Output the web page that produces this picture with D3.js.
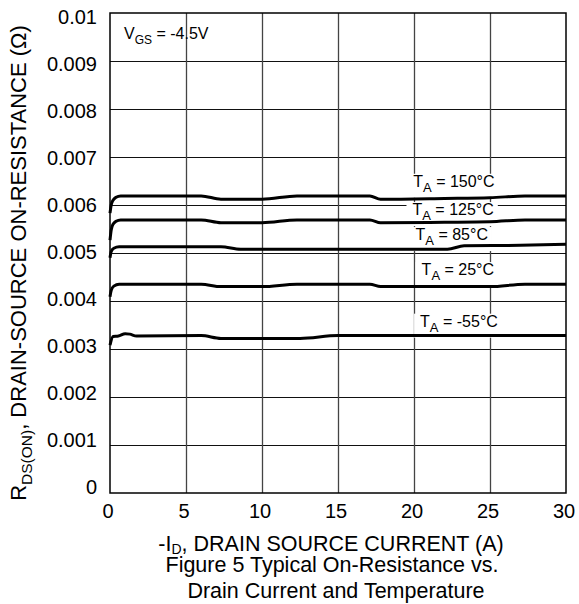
<!DOCTYPE html>
<html>
<head>
<meta charset="utf-8">
<script src="https://cdn.jsdelivr.net/npm/d3@7"></script>
<style>
  body { margin: 0; background: #fff; }
  svg { display: block; font-family: Arial, "Liberation Sans", sans-serif; }
</style>
</head>
<body>
<div id="chart"></div>
<script>
// drain current (A) and on-resistance (ohm)
const id150 = [0, 0.08, 0.2, 0.4, 0.7, 6.0, 7.3, 10.0, 12.3, 17.1, 17.8, 22.0, 25.0, 27.3, 30]
const r150  = [0.00583, 0.00600, 0.00610, 0.00616, 0.00619, 0.00619, 0.00612, 0.00612, 0.00619, 0.00619, 0.00612, 0.006135, 0.00615, 0.00619, 0.00619]

const id125 = [0, 0.08, 0.2, 0.4, 0.7, 6.0, 7.3, 10.0, 12.3, 17.1, 17.8, 22.0, 25.0, 27.3, 30]
const r125  = [0.00527, 0.00548, 0.00560, 0.00566, 0.00569, 0.00569, 0.00563, 0.00563, 0.00569, 0.00569, 0.00563, 0.00564, 0.00565, 0.00569, 0.00569]

const id85 = [0, 0.08, 0.25, 0.6, 7.3, 8.6, 22.2, 23.3, 27.0, 30]
const r85  = [0.00490, 0.00503, 0.00510, 0.00513, 0.00513, 0.00508, 0.00508, 0.00515, 0.00516, 0.00518]

const id25 = [0, 0.08, 0.25, 0.6, 6.0, 7.3, 10.0, 12.3, 17.1, 17.8, 25.0, 27.3, 30]
const r25  = [0.00409, 0.00422, 0.00431, 0.00435, 0.00435, 0.00430, 0.00430, 0.00435, 0.00435, 0.00430, 0.00430, 0.00435, 0.00435]

const idM55 = [0, 0.2, 0.55, 1.0, 1.3, 1.75, 6.0, 7.3, 12.5, 15.0, 30]
const rM55  = [0.00308, 0.00326, 0.00327, 0.00332, 0.00331, 0.00327, 0.00328, 0.00322, 0.00322, 0.00328, 0.00328]

const tempLabels = ['150', '125', '85', '25', '-55']
const xTicks = [0, 5, 10, 15, 20, 25, 30]
const yTicks = [0, 0.001, 0.002, 0.003, 0.004, 0.005, 0.006, 0.007, 0.008, 0.009, 0.01]

const series = [
  { t: tempLabels[0], x: id150, y: r150, lx: 19.95, ly: 0.00638 },
  { t: tempLabels[1], x: id125, y: r125, lx: 19.9, ly: 0.00579 },
  { t: tempLabels[2], x: id85, y: r85, lx: 20.1, ly: 0.00527 },
  { t: tempLabels[3], x: id25, y: r25, lx: 20.5, ly: 0.00454 },
  { t: tempLabels[4], x: idM55, y: rM55, lx: 20.4, ly: 0.003465 }
]

const W = 579, H = 604
const plot = { left: 110, right: 566, top: 13, bottom: 493 }

const svg = d3.select('#chart').append('svg')
  .attr('width', W).attr('height', H)

const x = d3.scaleLinear().domain([0, 30]).range([plot.left, plot.right])
const y = d3.scaleLinear().domain([0, 0.01]).range([plot.bottom, plot.top])
// the tick labels in the original sit slightly compressed against the grid
const yLab = d3.scaleLinear().domain([0, 0.01]).range([493.5, 23.5])

// label boxes go first so they only cut the grid
const bgG = svg.append('g')

// grid
svg.append('g').selectAll('line.h')
  .data(yTicks.slice(1, -1))
  .enter().append('line')
  .attr('x1', plot.left).attr('x2', plot.right)
  .attr('y1', d => Math.round(y(d)) + 0.5).attr('y2', d => Math.round(y(d)) + 0.5)
  .attr('stroke', '#111').attr('stroke-width', 1)

svg.append('g').selectAll('line.v')
  .data(xTicks.slice(1, -1))
  .enter().append('line')
  .attr('y1', plot.top).attr('y2', plot.bottom)
  .attr('x1', d => Math.round(x(d)) + 0.5).attr('x2', d => Math.round(x(d)) + 0.5)
  .attr('stroke', '#444').attr('stroke-width', 1.3)

bgG.raise()

// frame
svg.append('rect')
  .attr('x', plot.left).attr('y', plot.top)
  .attr('width', plot.right - plot.left).attr('height', plot.bottom - plot.top)
  .attr('fill', 'none').attr('stroke', '#000').attr('stroke-width', 1.5)

// tick labels
svg.append('g').selectAll('text')
  .data(yTicks)
  .enter().append('text')
  .attr('x', 97).attr('y', d => yLab(d))
  .attr('text-anchor', 'end').attr('font-size', 20)
  .text(d => d === 0 ? '0' : d3.format('.3~f')(d))

svg.append('g').selectAll('text')
  .data(xTicks)
  .enter().append('text')
  .attr('x', d => x(d) - 2).attr('y', 518)
  .attr('text-anchor', 'middle').attr('font-size', 20)
  .text(d => d)

// curves
const line = d3.line()
  .x(d => x(d[0])).y(d => y(d[1]))
  .curve(d3.curveMonotoneX)

svg.append('g').selectAll('path')
  .data(series)
  .enter().append('path')
  .attr('d', s => line(s.x.map((v, i) => [v, s.y[i]])))
  .attr('fill', 'none').attr('stroke', '#000').attr('stroke-width', 3)
  .attr('stroke-linejoin', 'round')

// temperature labels
const labG = svg.append('g')
series.forEach(s => {
  const t = labG.append('text')
    .attr('x', x(s.lx)).attr('y', y(s.ly))
    .attr('font-size', 16)
  t.append('tspan').text('T')
  t.append('tspan').attr('font-size', 13).attr('dy', 5).text('A')
  t.append('tspan').attr('dy', -5).text(' = ' + s.t + '\u00B0C')
  const bb = t.node().getBBox()
  bgG.append('rect').attr('fill', '#fff')
    .attr('x', bb.x - 6).attr('y', bb.y + 1)
    .attr('width', bb.width + 10).attr('height', bb.height + 2)
})

// VGS note
const vgs = svg.append('text').attr('x', 124).attr('y', 39).attr('font-size', 16)
vgs.append('tspan').text('V')
vgs.append('tspan').attr('font-size', 12).attr('dy', 5).text('GS')
vgs.append('tspan').attr('dy', -5).text(' = -4.5V')

// axis titles
const xt = svg.append('text').attr('x', 331).attr('y', 551).attr('text-anchor', 'middle').attr('font-size', 21.5)
xt.append('tspan').text('-I')
xt.append('tspan').attr('font-size', 14).attr('dy', 3).text('D')
xt.append('tspan').attr('dy', -3).text(', DRAIN SOURCE CURRENT (A)')

svg.append('text').attr('x', 332).attr('y', 572).attr('text-anchor', 'middle').attr('font-size', 21.5)
  .text('Figure 5 Typical On-Resistance vs.')
svg.append('text').attr('x', 336).attr('y', 598).attr('text-anchor', 'middle').attr('font-size', 21.5)
  .text('Drain Current and Temperature')

const yt = svg.append('text')
  .attr('transform', 'translate(26,263) rotate(-90)')
  .attr('text-anchor', 'middle').attr('font-size', 22)
yt.append('tspan').text('R')
yt.append('tspan').attr('font-size', 15.5).attr('dy', 6).text('DS(ON)')
yt.append('tspan').attr('dy', -6).text(', DRAIN-SOURCE ON-RESISTANCE (\u03A9)')
</script>
</body>
</html>
